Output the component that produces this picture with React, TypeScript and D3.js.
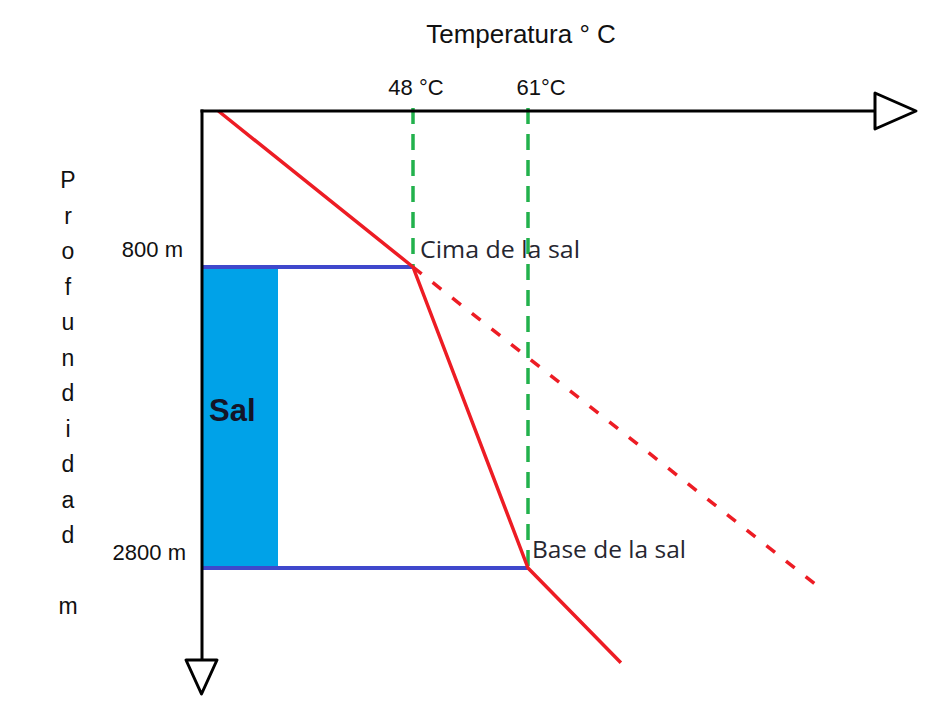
import React from 'react';
import * as d3 from 'd3';

// ---- data ----
const tempTicks = [48, 61];
const tempTickLabels = ['48 °C', '61°C'];
const depthTicks = [800, 2800];
const depthTickLabels = ['800 m', '2800 m'];
// measured geothermal profile (solid red)
const profileTemps = [26, 48, 61, 71.5];
const profileDepths = [0, 800, 2800, 3430];
// extrapolated gradient without salt (dashed red)
const extrapTemps = [48, 94.5];
const extrapDepths = [800, 2955];
const saltTop = 800;
const saltBottom = 2800;
const pointLabels = ['Cima de la sal', 'Base de la sal'];
const xTitle = 'Temperatura ° C';
const yTitleLetters = ['P', 'r', 'o', 'f', 'u', 'n', 'd', 'i', 'd', 'a', 'd', '', 'm'];
const saltLabel = 'Sal';

const W = 943;
const H = 702;
const X0 = 202; // axis origin
const Y0 = 111;
const XEND = 875;
const YEND = 660;

const RED = '#ed1c24';
const GREEN = '#22b14c';
const BLUE = '#3f48cc';
const CYAN = '#00a2e8';

export default function App() {
  const x = d3.scaleLinear().domain([tempTicks[0], tempTicks[1]]).range([413, 528]);
  const y = d3.scaleLinear().domain([0, depthTicks[0], depthTicks[1]]).range([Y0, 267, 568]);

  const line = d3
    .line<[number, number]>()
    .x((d) => x(d[0]))
    .y((d) => y(d[1]));

  const profile = profileTemps.map((t, i) => [t, profileDepths[i]] as [number, number]);
  const extrap = extrapTemps.map((t, i) => [t, extrapDepths[i]] as [number, number]);

  const arial = "'Liberation Sans', Arial, sans-serif";
  const calibri = "'Open Sans', 'Noto Sans', sans-serif";

  return (
    <svg
      width={W}
      height={H}
      style={{ position: 'absolute', left: 0, top: 0, background: '#fff' }}
    >
      <rect x={0} y={0} width={W} height={H} fill="#fff" />
      {/* title */}
      <text x={521} y={43} textAnchor="middle" fontFamily={arial} fontSize={26} fill="#111">
        {xTitle}
      </text>
      {/* temperature labels */}
      {tempTicks.map((t, i) => (
        <text
          key={t}
          x={x(t) + (i === 0 ? 3 : 13)}
          y={95}
          textAnchor="middle"
          fontFamily={arial}
          fontSize={22}
          fill="#111"
        >
          {tempTickLabels[i]}
        </text>
      ))}
      {/* depth labels */}
      {depthTicks.map((d, i) => (
        <text
          key={d}
          x={i === 0 ? 183 : 186}
          y={y(d) - 10 + (i === 0 ? 0 : 2)}
          textAnchor="end"
          fontFamily={arial}
          fontSize={22}
          fill="#111"
        >
          {depthTickLabels[i]}
        </text>
      ))}
      {/* vertical title */}
      {yTitleLetters.map((c, i) => (
        <text
          key={i}
          x={68}
          y={188 + i * 35.5}
          textAnchor="middle"
          fontFamily={arial}
          fontSize={23}
          fill="#111"
        >
          {c}
        </text>
      ))}
      {/* salt body */}
      <rect
        x={X0 + 1}
        y={y(saltTop) + 2}
        width={75}
        height={y(saltBottom) - y(saltTop) - 4}
        fill={CYAN}
      />
      <text x={209} y={421} fontFamily={arial} fontWeight="bold" fontSize={31} fill="#141428">
        {saltLabel}
      </text>
      {/* blue horizontal lines at top and base of salt */}
      <line x1={X0} x2={x(tempTicks[0])} y1={y(saltTop)} y2={y(saltTop)} stroke={BLUE} strokeWidth={4} />
      <line x1={X0} x2={x(tempTicks[1])} y1={y(saltBottom)} y2={y(saltBottom)} stroke={BLUE} strokeWidth={4} />
      {/* green dashed verticals */}
      <line
        x1={x(tempTicks[0])}
        x2={x(tempTicks[0])}
        y1={Y0 - 3}
        y2={y(saltTop)}
        stroke={GREEN}
        strokeWidth={3.5}
        strokeDasharray="16 10"
      />
      <line
        x1={x(tempTicks[1])}
        x2={x(tempTicks[1])}
        y1={Y0 - 3}
        y2={y(saltBottom)}
        stroke={GREEN}
        strokeWidth={3.5}
        strokeDasharray="16 10"
      />
      {/* red profile */}
      <path d={line(extrap) || ''} fill="none" stroke={RED} strokeWidth={3.5} strokeDasharray="11 14" />
      <path d={line(profile) || ''} fill="none" stroke={RED} strokeWidth={3.5} strokeLinejoin="round" />
      {/* point labels */}
      <text x={x(tempTicks[0]) + 7} y={y(saltTop) - 9} fontFamily={calibri} fontSize={24} fill="#262630" textLength={160} lengthAdjust="spacingAndGlyphs">
        {pointLabels[0]}
      </text>
      <text x={x(tempTicks[1]) + 4} y={y(saltBottom) - 10} fontFamily={calibri} fontSize={24} fill="#262630" textLength={154} lengthAdjust="spacingAndGlyphs">
        {pointLabels[1]}
      </text>
      {/* axes */}
      <line x1={X0 - 1.5} x2={XEND} y1={Y0} y2={Y0} stroke="#000" strokeWidth={3} />
      <line x1={X0} x2={X0} y1={Y0 - 1.5} y2={YEND} stroke="#000" strokeWidth={3} />
      <polygon
        points={`${XEND},${Y0 - 18} ${XEND + 41},${Y0} ${XEND},${Y0 + 18}`}
        fill="#fff"
        stroke="#000"
        strokeWidth={3}
        strokeLinejoin="round"
      />
      <polygon
        points={`${X0 - 16},${YEND} ${X0 + 15},${YEND} ${X0 - 0.5},${YEND + 34}`}
        fill="#fff"
        stroke="#000"
        strokeWidth={3}
        strokeLinejoin="round"
      />
    </svg>
  );
}
